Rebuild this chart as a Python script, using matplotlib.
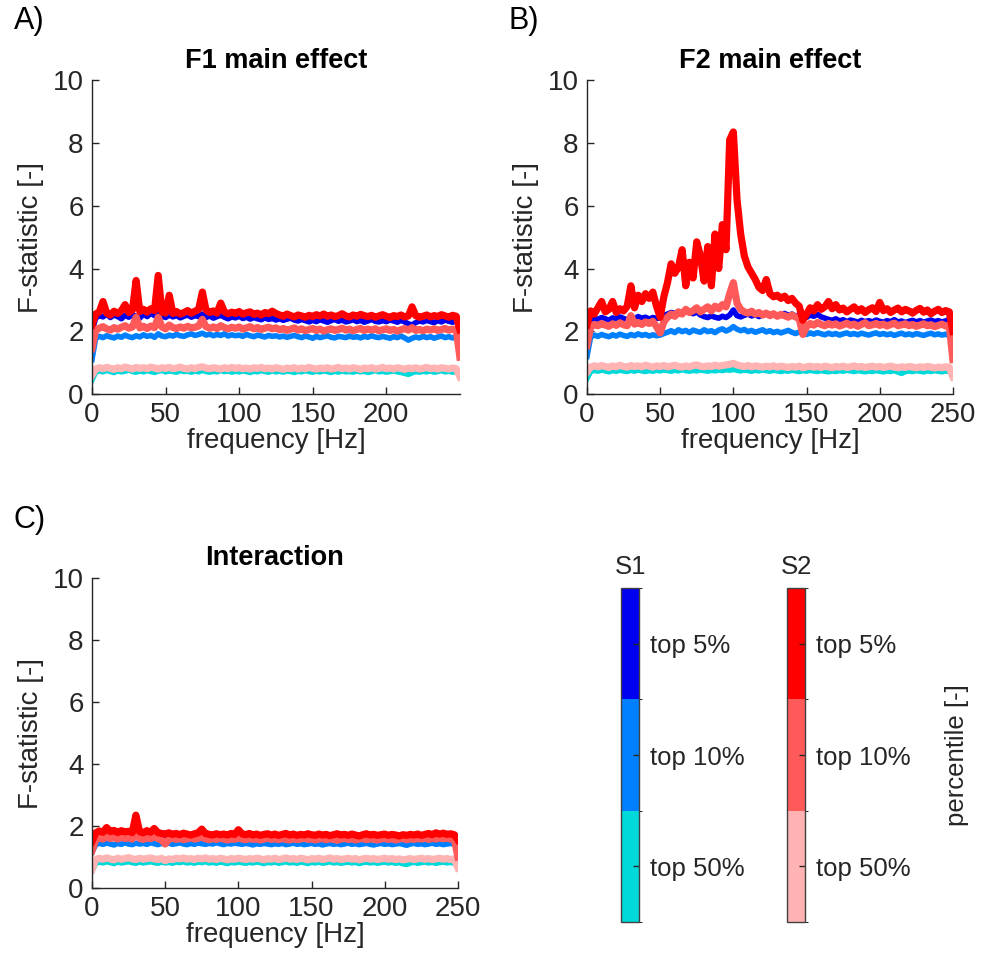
import numpy as np
import matplotlib
matplotlib.use("Agg")
import matplotlib.pyplot as plt
from matplotlib.colors import ListedColormap, BoundaryNorm
from matplotlib.cm import ScalarMappable

plt.rcParams['font.family'] = ['Liberation Sans', 'DejaVu Sans']

# frequency axis, 2.5 Hz bins
freq = np.arange(0, 250.1, 2.5)

# ---------------- F1 main effect ----------------
f1_s1_top5 = [
    2.00, 2.42, 2.50, 2.46, 2.55, 2.44, 2.52, 2.47, 2.40, 2.51,
    2.45, 2.53, 2.48, 2.42, 2.55, 2.47, 2.58, 2.50, 2.62, 2.49,
    2.44, 2.52, 2.46, 2.50, 2.43, 2.48, 2.52, 2.45, 2.50, 2.47,
    2.55, 2.44, 2.49, 2.42, 2.47, 2.51, 2.45, 2.40, 2.46, 2.43,
    2.48, 2.41, 2.45, 2.39, 2.44, 2.40, 2.37, 2.43, 2.38, 2.41,
    2.36, 2.40, 2.35, 2.39, 2.42, 2.36, 2.33, 2.38, 2.34, 2.30,
    2.35, 2.31, 2.37, 2.33, 2.29, 2.34, 2.38, 2.32, 2.36, 2.30,
    2.33, 2.37, 2.31, 2.35, 2.29, 2.33, 2.38, 2.32, 2.30, 2.34,
    2.31, 2.36, 2.33, 2.29, 2.35, 2.30, 2.24, 2.20, 2.28, 2.33,
    2.30, 2.35, 2.31, 2.28, 2.34, 2.30, 2.36, 2.32, 2.29, 2.33,
    2.25]
f1_s1_top10 = [
    1.10, 1.78, 1.84, 1.80, 1.86, 1.82, 1.79, 1.85, 1.81, 1.88,
    1.83, 1.80, 1.86, 1.82, 1.89, 1.84, 1.87, 1.81, 1.92, 1.85,
    1.83, 1.88, 1.85, 1.90, 1.86, 1.84, 1.89, 1.92, 1.87, 1.90,
    1.94, 1.88, 1.91, 1.86, 1.90, 1.87, 1.92, 1.85, 1.89, 1.86,
    1.88, 1.84, 1.90, 1.86, 1.83, 1.88, 1.85, 1.82, 1.87, 1.84,
    1.86, 1.82, 1.85, 1.81, 1.84, 1.87, 1.83, 1.80, 1.85, 1.82,
    1.78, 1.84, 1.80, 1.83, 1.86, 1.81, 1.79, 1.84, 1.82, 1.80,
    1.85, 1.81, 1.83, 1.79, 1.84, 1.81, 1.86, 1.82, 1.80, 1.84,
    1.81, 1.78, 1.83, 1.80, 1.85, 1.79, 1.72, 1.78, 1.82, 1.79,
    1.84, 1.80, 1.83, 1.78, 1.82, 1.85, 1.80, 1.83, 1.79, 1.82,
    1.78]
f1_s1_top50 = [
    0.45, 0.70, 0.74, 0.71, 0.76, 0.72, 0.69, 0.74, 0.71, 0.73,
    0.77, 0.72, 0.70, 0.74, 0.71, 0.75, 0.72, 0.69, 0.73, 0.76,
    0.71, 0.74, 0.72, 0.70, 0.75, 0.72, 0.73, 0.70, 0.74, 0.71,
    0.76, 0.72, 0.70, 0.73, 0.71, 0.75, 0.72, 0.74, 0.70, 0.73,
    0.71, 0.74, 0.72, 0.69, 0.73, 0.71, 0.75, 0.72, 0.70, 0.74,
    0.71, 0.73, 0.70, 0.74, 0.72, 0.69, 0.73, 0.71, 0.75, 0.72,
    0.70, 0.73, 0.71, 0.74, 0.72, 0.69, 0.73, 0.70, 0.74, 0.71,
    0.72, 0.70, 0.74, 0.71, 0.73, 0.69, 0.72, 0.75, 0.71, 0.73,
    0.70, 0.72, 0.74, 0.71, 0.69, 0.66, 0.63, 0.68, 0.72, 0.70,
    0.73, 0.71, 0.74, 0.70, 0.72, 0.75, 0.71, 0.73, 0.70, 0.72,
    0.68]
f1_s2_top5 = [
    2.20, 2.55, 2.62, 2.95, 2.58, 2.52, 2.64, 2.57, 2.66, 2.85,
    2.60, 2.68, 3.62, 2.63, 2.70, 2.61, 2.72, 2.66, 3.78, 2.62,
    2.58, 3.15, 2.57, 2.63, 2.55, 2.60, 2.66, 2.58, 2.64, 2.70,
    3.25, 2.68, 2.60, 2.65, 2.58, 2.90, 2.62, 2.56, 2.61, 2.57,
    2.63, 2.55, 2.59, 2.62, 2.54, 2.58, 2.52, 2.60, 2.56, 2.64,
    2.57, 2.52, 2.48, 2.55, 2.50, 2.46, 2.52, 2.49, 2.45, 2.51,
    2.47, 2.53, 2.49, 2.55, 2.48, 2.52, 2.47, 2.50, 2.56, 2.49,
    2.46, 2.52, 2.48, 2.54, 2.50, 2.47, 2.51, 2.45, 2.49, 2.53,
    2.48, 2.44, 2.50, 2.47, 2.52, 2.46, 2.49, 2.78, 2.50, 2.45,
    2.48, 2.52, 2.46, 2.50, 2.47, 2.53, 2.49, 2.45, 2.51, 2.48,
    2.05]
f1_s2_top10 = [
    1.45, 2.05, 2.10, 2.15, 2.08, 2.04, 2.12, 2.07, 2.13, 2.18,
    2.10, 2.14, 2.45, 2.11, 2.16, 2.09, 2.17, 2.12, 2.45, 2.14,
    2.08, 2.20, 2.12, 2.09, 2.14, 2.10, 2.16, 2.11, 2.13, 2.17,
    2.38, 2.15, 2.10, 2.14, 2.09, 2.18, 2.12, 2.08, 2.13, 2.10,
    2.14, 2.07, 2.11, 2.15, 2.08, 2.12, 2.06, 2.10, 2.13, 2.08,
    2.11, 2.05, 2.09, 2.03, 2.07, 2.11, 2.04, 2.08, 2.02, 2.06,
    2.09, 2.03, 2.07, 2.01, 2.05, 2.08, 2.03, 2.06, 2.10, 2.04,
    2.07, 2.02, 2.06, 2.09, 2.03, 2.07, 2.04, 2.08, 2.02, 2.05,
    2.08, 2.03, 2.06, 2.01, 2.05, 2.09, 2.04, 2.12, 2.03, 2.06,
    2.02, 2.07, 2.04, 2.08, 2.03, 2.06, 2.09, 2.04, 2.07, 2.05,
    1.18]
f1_s2_top50 = [
    0.60, 0.80, 0.84, 0.81, 0.85, 0.82, 0.79, 0.84, 0.81, 0.86,
    0.83, 0.80, 0.85, 0.82, 0.84, 0.81, 0.86, 0.83, 0.80, 0.84,
    0.82, 0.85, 0.81, 0.83, 0.86, 0.82, 0.80, 0.84, 0.81, 0.85,
    0.87, 0.83, 0.81, 0.84, 0.82, 0.80, 0.84, 0.81, 0.85, 0.82,
    0.84, 0.81, 0.83, 0.80, 0.84, 0.82, 0.85, 0.81, 0.83, 0.80,
    0.84, 0.82, 0.79, 0.83, 0.81, 0.84, 0.80, 0.83, 0.81, 0.85,
    0.82, 0.80, 0.83, 0.81, 0.84, 0.80, 0.82, 0.85, 0.81, 0.83,
    0.80, 0.84, 0.82, 0.79, 0.83, 0.81, 0.84, 0.80, 0.82, 0.85,
    0.81, 0.83, 0.80, 0.84, 0.82, 0.79, 0.83, 0.81, 0.84, 0.80,
    0.82, 0.85, 0.81, 0.83, 0.80, 0.84, 0.82, 0.80, 0.83, 0.81,
    0.55]

# ---------------- F2 main effect ----------------
f2_s1_top5 = [
    2.00, 2.36, 2.42, 2.38, 2.44, 2.40, 2.35, 2.43, 2.39, 2.46,
    2.41, 2.37, 2.44, 2.40, 2.47, 2.42, 2.45, 2.39, 2.44, 2.41,
    2.43, 2.50, 2.55, 2.60, 2.57, 2.63, 2.58, 2.70, 2.61, 2.56,
    2.62, 2.52, 2.47, 2.44, 2.49, 2.45, 2.42, 2.48, 2.44, 2.52,
    2.68, 2.50, 2.46, 2.51, 2.55, 2.49, 2.53, 2.47, 2.52, 2.56,
    2.50, 2.54, 2.48, 2.53, 2.57, 2.51, 2.55, 2.49, 2.52, 2.47,
    2.44, 2.52, 2.48, 2.54, 2.46, 2.42, 2.38, 2.35, 2.40, 2.33,
    2.37, 2.31, 2.36, 2.33, 2.29, 2.35, 2.31, 2.34, 2.30, 2.36,
    2.32, 2.29, 2.34, 2.31, 2.37, 2.30, 2.33, 2.28, 2.32, 2.35,
    2.30, 2.34, 2.29, 2.33, 2.36, 2.31, 2.34, 2.30, 2.33, 2.38,
    2.45]
f2_s1_top10 = [
    1.20, 1.82, 1.88, 1.84, 1.90, 1.86, 1.83, 1.89, 1.85, 1.91,
    1.87, 1.84, 1.90, 1.86, 1.92, 1.87, 1.90, 1.85, 1.89, 1.86,
    1.88, 1.93, 1.97, 2.02, 1.96, 2.05, 1.99, 2.03, 1.96, 2.04,
    2.00, 1.97, 2.05, 1.99, 2.02, 1.96, 2.04, 2.08, 2.01, 2.06,
    2.15, 2.07, 2.02, 2.06, 1.99, 2.03, 1.97, 2.01, 2.05, 1.98,
    2.02, 1.96, 2.00, 1.95, 1.99, 2.03, 1.97, 1.93, 1.98, 1.94,
    1.90, 1.95, 1.91, 1.96, 1.92, 1.89, 1.94, 1.90, 1.93, 1.88,
    1.92, 1.95, 1.90, 1.93, 1.89, 1.94, 1.91, 1.88, 1.92, 1.95,
    1.90, 1.93, 1.89, 1.92, 1.87, 1.91, 1.94, 1.89, 1.92, 1.88,
    1.93, 1.90, 1.87, 1.91, 1.94, 1.89, 1.92, 1.88, 1.91, 1.86,
    1.85]
f2_s1_top50 = [
    0.50, 0.72, 0.76, 0.73, 0.77, 0.74, 0.71, 0.75, 0.73, 0.76,
    0.74, 0.72, 0.76, 0.73, 0.77, 0.74, 0.72, 0.75, 0.73, 0.76,
    0.74, 0.77, 0.75, 0.73, 0.76, 0.74, 0.78, 0.75, 0.73, 0.76,
    0.74, 0.77, 0.75, 0.73, 0.76, 0.74, 0.77, 0.75, 0.78, 0.76,
    0.79, 0.76, 0.74, 0.77, 0.75, 0.73, 0.76, 0.74, 0.77, 0.75,
    0.73, 0.76, 0.74, 0.72, 0.75, 0.73, 0.76, 0.74, 0.72, 0.75,
    0.73, 0.76, 0.74, 0.72, 0.75, 0.73, 0.71, 0.74, 0.72, 0.75,
    0.73, 0.76, 0.74, 0.72, 0.75, 0.73, 0.71, 0.74, 0.72, 0.75,
    0.73, 0.71, 0.74, 0.72, 0.75, 0.70, 0.66, 0.72, 0.74, 0.72,
    0.75, 0.73, 0.71, 0.74, 0.72, 0.75, 0.73, 0.71, 0.74, 0.72,
    0.78]
f2_s2_top5 = [
    2.20, 2.65, 2.55, 2.75, 2.95, 2.62, 2.70, 2.95, 2.60, 2.72,
    2.65, 2.80, 3.45, 2.75, 3.15, 2.95, 3.20, 3.05, 3.25, 2.80,
    2.45, 3.10, 3.55, 4.15, 3.85, 4.05, 4.60, 3.45, 4.20, 3.70,
    4.85, 4.40, 3.60, 4.70, 3.45, 5.10, 4.00, 5.40, 4.60, 8.10,
    8.35, 6.20, 5.10, 4.40, 4.05, 3.85, 3.65, 3.40, 3.30, 3.65,
    3.20, 3.10, 3.15, 3.05, 3.12, 2.98, 3.05, 2.90, 2.80, 2.35,
    2.55, 2.75, 2.65, 2.85, 2.70, 2.78, 2.95, 2.72, 2.85, 2.68,
    2.74, 2.62, 2.70, 2.78, 2.64, 2.72, 2.60, 2.69, 2.75, 2.63,
    2.92, 2.66, 2.72, 2.60, 2.68, 2.74, 2.62, 2.70, 2.65, 2.58,
    2.67, 2.73, 2.61, 2.68, 2.56, 2.64, 2.70, 2.60, 2.66, 2.62,
    2.00]
f2_s2_top10 = [
    1.55, 2.15, 2.22, 2.18, 2.25, 2.20, 2.16, 2.24, 2.19, 2.27,
    2.21, 2.18, 2.50, 2.23, 2.28, 2.22, 2.30, 2.25, 2.32, 2.15,
    1.95, 2.30, 2.45, 2.55, 2.48, 2.62, 2.55, 2.70, 2.60, 2.66,
    2.75, 2.62, 2.70, 2.78, 2.65, 2.80, 2.72, 2.85, 2.78, 3.20,
    3.55, 2.90, 2.70, 2.62, 2.58, 2.64, 2.55, 2.60, 2.52, 2.58,
    2.50, 2.56, 2.48, 2.54, 2.50, 2.45, 2.52, 2.46, 2.40, 1.90,
    2.15, 2.25, 2.20, 2.28, 2.22, 2.18, 2.25, 2.20, 2.24, 2.17,
    2.21, 2.26, 2.19, 2.23, 2.16, 2.22, 2.27, 2.18, 2.21, 2.25,
    2.19, 2.23, 2.17, 2.22, 2.26, 2.18, 2.21, 2.24, 2.18, 2.22,
    2.16, 2.20, 2.24, 2.18, 2.21, 2.15, 2.19, 2.23, 2.17, 2.20,
    1.10]
f2_s2_top50 = [
    0.70, 0.86, 0.90, 0.87, 0.91, 0.88, 0.85, 0.90, 0.87, 0.92,
    0.88, 0.86, 0.91, 0.88, 0.90, 0.87, 0.92, 0.89, 0.86, 0.90,
    0.88, 0.91, 0.87, 0.89, 0.92, 0.88, 0.86, 0.90, 0.87, 0.91,
    0.93, 0.89, 0.87, 0.90, 0.88, 0.92, 0.89, 0.91, 0.93, 0.95,
    0.98, 0.93, 0.90, 0.88, 0.91, 0.87, 0.90, 0.88, 0.86, 0.89,
    0.87, 0.90, 0.86, 0.89, 0.87, 0.85, 0.88, 0.86, 0.89, 0.84,
    0.87, 0.89, 0.86, 0.88, 0.85, 0.89, 0.87, 0.84, 0.88, 0.86,
    0.89, 0.85, 0.87, 0.90, 0.86, 0.88, 0.85, 0.87, 0.89, 0.86,
    0.88, 0.85, 0.87, 0.89, 0.86, 0.84, 0.87, 0.85, 0.88, 0.86,
    0.84, 0.87, 0.85, 0.88, 0.86, 0.83, 0.86, 0.84, 0.87, 0.85,
    0.55]

# ---------------- Interaction ----------------
int_s1_top5 = [
    1.40, 1.66, 1.70, 1.67, 1.72, 1.68, 1.65, 1.71, 1.67, 1.73,
    1.69, 1.66, 1.74, 1.68, 1.71, 1.67, 1.70, 1.66, 1.72, 1.68,
    1.65, 1.69, 1.66, 1.70, 1.67, 1.64, 1.69, 1.66, 1.71, 1.67,
    1.72, 1.68, 1.65, 1.69, 1.66, 1.70, 1.67, 1.64, 1.68, 1.71,
    1.69, 1.66, 1.70, 1.67, 1.65, 1.69, 1.66, 1.70, 1.67, 1.64,
    1.68, 1.65, 1.69, 1.66, 1.70, 1.67, 1.64, 1.68, 1.65, 1.69,
    1.66, 1.63, 1.67, 1.70, 1.66, 1.68, 1.65, 1.69, 1.66, 1.64,
    1.67, 1.70, 1.66, 1.68, 1.65, 1.69, 1.66, 1.63, 1.67, 1.65,
    1.68, 1.66, 1.69, 1.65, 1.67, 1.64, 1.68, 1.66, 1.69, 1.65,
    1.67, 1.64, 1.68, 1.66, 1.69, 1.65, 1.67, 1.70, 1.66, 1.68,
    1.60]
int_s1_top10 = [
    1.15, 1.40, 1.44, 1.41, 1.45, 1.42, 1.39, 1.44, 1.41, 1.46,
    1.42, 1.40, 1.45, 1.42, 1.44, 1.41, 1.46, 1.43, 1.40, 1.44,
    1.42, 1.45, 1.41, 1.43, 1.46, 1.42, 1.40, 1.44, 1.41, 1.45,
    1.43, 1.41, 1.44, 1.42, 1.46, 1.43, 1.40, 1.44, 1.42, 1.45,
    1.43, 1.41, 1.44, 1.42, 1.39, 1.43, 1.41, 1.44, 1.42, 1.40,
    1.43, 1.41, 1.44, 1.40, 1.42, 1.45, 1.41, 1.43, 1.40, 1.42,
    1.44, 1.41, 1.43, 1.39, 1.42, 1.44, 1.41, 1.43, 1.40, 1.42,
    1.45, 1.41, 1.43, 1.40, 1.42, 1.44, 1.41, 1.39, 1.42, 1.44,
    1.41, 1.43, 1.40, 1.42, 1.44, 1.41, 1.38, 1.42, 1.44, 1.41,
    1.43, 1.40, 1.42, 1.45, 1.41, 1.43, 1.40, 1.42, 1.44, 1.41,
    1.40]
int_s1_top50 = [
    0.55, 0.80, 0.84, 0.81, 0.85, 0.82, 0.79, 0.84, 0.81, 0.83,
    0.85, 0.82, 0.80, 0.84, 0.81, 0.83, 0.85, 0.82, 0.80, 0.84,
    0.81, 0.83, 0.80, 0.84, 0.82, 0.85, 0.81, 0.83, 0.80, 0.84,
    0.82, 0.85, 0.81, 0.83, 0.80, 0.84, 0.82, 0.79, 0.83, 0.81,
    0.84, 0.82, 0.80, 0.83, 0.81, 0.84, 0.82, 0.79, 0.83, 0.81,
    0.84, 0.80, 0.82, 0.85, 0.81, 0.83, 0.80, 0.84, 0.82, 0.79,
    0.83, 0.81, 0.84, 0.80, 0.82, 0.85, 0.81, 0.83, 0.80, 0.82,
    0.84, 0.81, 0.83, 0.79, 0.82, 0.84, 0.81, 0.83, 0.80, 0.82,
    0.84, 0.81, 0.83, 0.80, 0.82, 0.78, 0.76, 0.81, 0.83, 0.80,
    0.82, 0.84, 0.81, 0.83, 0.80, 0.82, 0.84, 0.81, 0.83, 0.80,
    0.75]
int_s2_top5 = [
    1.50, 1.78, 1.84, 1.80, 1.95, 1.82, 1.86, 1.79, 1.85, 1.81,
    1.83, 1.79, 2.35, 1.82, 1.78, 1.85, 1.80, 1.92, 1.79, 1.76,
    1.74, 1.78, 1.73, 1.76, 1.72, 1.77, 1.74, 1.71, 1.75, 1.78,
    1.90, 1.76, 1.73, 1.71, 1.75, 1.72, 1.74, 1.71, 1.76, 1.73,
    1.88, 1.75, 1.72, 1.76, 1.71, 1.74, 1.70, 1.73, 1.75, 1.71,
    1.74, 1.70, 1.73, 1.76, 1.71, 1.74, 1.70, 1.73, 1.71, 1.75,
    1.72, 1.70, 1.74, 1.71, 1.73, 1.69, 1.72, 1.75, 1.71, 1.73,
    1.70, 1.74, 1.71, 1.68, 1.72, 1.75, 1.71, 1.73, 1.70, 1.72,
    1.74, 1.70, 1.73, 1.71, 1.68, 1.72, 1.70, 1.73, 1.71, 1.74,
    1.70, 1.73, 1.76, 1.72, 1.78, 1.74, 1.77, 1.73, 1.75, 1.72,
    1.55]
int_s2_top10 = [
    1.20, 1.56, 1.62, 1.58, 1.65, 1.60, 1.63, 1.58, 1.64, 1.60,
    1.62, 1.58, 1.92, 1.60, 1.57, 1.62, 1.59, 1.66, 1.60, 1.55,
    1.42, 1.58, 1.61, 1.57, 1.60, 1.56, 1.59, 1.62, 1.58, 1.60,
    1.66, 1.59, 1.56, 1.60, 1.57, 1.61, 1.58, 1.55, 1.59, 1.57,
    1.62, 1.58, 1.56, 1.60, 1.57, 1.59, 1.55, 1.58, 1.61, 1.57,
    1.59, 1.56, 1.60, 1.57, 1.55, 1.59, 1.56, 1.58, 1.61, 1.57,
    1.59, 1.55, 1.58, 1.60, 1.56, 1.59, 1.57, 1.54, 1.58, 1.60,
    1.57, 1.59, 1.55, 1.58, 1.60, 1.56, 1.59, 1.57, 1.55, 1.58,
    1.60, 1.57, 1.59, 1.55, 1.58, 1.60, 1.56, 1.59, 1.57, 1.60,
    1.58, 1.61, 1.57, 1.60, 1.58, 1.62, 1.59, 1.61, 1.58, 1.60,
    1.00]
int_s2_top50 = [
    0.60, 0.92, 0.96, 0.93, 0.97, 0.94, 0.91, 0.96, 0.93, 0.95,
    0.98, 0.94, 0.92, 0.96, 0.93, 0.95, 0.97, 0.94, 0.92, 0.96,
    0.88, 0.94, 0.92, 0.96, 0.94, 0.97, 0.93, 0.95, 0.92, 0.96,
    0.94, 0.97, 0.93, 0.95, 0.92, 0.96, 0.94, 0.91, 0.95, 0.93,
    0.96, 0.94, 0.92, 0.95, 0.93, 0.96, 0.94, 0.91, 0.95, 0.93,
    0.96, 0.92, 0.94, 0.97, 0.93, 0.95, 0.92, 0.96, 0.94, 0.91,
    0.95, 0.93, 0.96, 0.92, 0.94, 0.97, 0.93, 0.95, 0.92, 0.94,
    0.96, 0.93, 0.95, 0.91, 0.94, 0.96, 0.93, 0.95, 0.92, 0.94,
    0.96, 0.93, 0.95, 0.92, 0.94, 0.91, 0.93, 0.95, 0.92, 0.94,
    0.96, 0.93, 0.95, 0.92, 0.94, 0.96, 0.93, 0.95, 0.92, 0.94,
    0.65]

s1_colors = ['#0000F0', '#0080FF', '#00D9D9']   # top 5, 10, 50 %
s2_colors = ['#FF0000', '#FF5A5A', '#FFB3B3']
pct_labels = ['top 5%', 'top 10%', 'top 50%']
dark = '#262626'

fig = plt.figure(figsize=(9.89, 9.66), dpi=100)


def stat_panel(rect, title, s1, s2, xticks):
    ax = fig.add_axes(rect)
    # S1 first, then S2 on top; weakest percentile drawn first
    for y, c in zip(s1[::-1], s1_colors[::-1]):
        ax.plot(freq, y, color=c, lw=4.0, solid_joinstyle='round')
    for y, c in zip(s2[::-1], s2_colors[::-1]):
        ax.plot(freq, y, color=c, lw=5.2, solid_joinstyle='round')
    ax.set_xlim(0, 250)
    ax.set_ylim(0, 10)
    ax.set_xticks(xticks)
    ax.set_yticks([0, 2, 4, 6, 8, 10])
    ax.set_xlabel('frequency [Hz]', fontsize=20, color=dark, labelpad=0)
    ax.set_ylabel('F-statistic [-]', fontsize=20, color=dark, labelpad=6)
    ax.set_title(title, fontsize=19.5, fontweight='bold', pad=9)
    for side in ('top', 'right'):
        ax.spines[side].set_visible(False)
    for side in ('left', 'bottom'):
        ax.spines[side].set_color(dark)
        ax.spines[side].set_linewidth(1.0)
    ax.tick_params(direction='in', length=5, width=1, colors=dark,
                   labelsize=20, pad=6)
    return ax


stat_panel([0.093, 0.592, 0.372, 0.325], 'F1 main effect',
           [f1_s1_top5, f1_s1_top10, f1_s1_top50],
           [f1_s2_top5, f1_s2_top10, f1_s2_top50], [0, 50, 100, 150, 200])
stat_panel([0.5935, 0.592, 0.370, 0.325], 'F2 main effect',
           [f2_s1_top5, f2_s1_top10, f2_s1_top50],
           [f2_s2_top5, f2_s2_top10, f2_s2_top50], [0, 50, 100, 150, 200, 250])
stat_panel([0.093, 0.0807, 0.370, 0.321], 'Interaction',
           [int_s1_top5, int_s1_top10, int_s1_top50],
           [int_s2_top5, int_s2_top10, int_s2_top50], [0, 50, 100, 150, 200, 250])

# panel letters
fig.text(0.014, 0.978, 'A)', fontsize=22, va='center', ha='left')
fig.text(0.514, 0.978, 'B)', fontsize=22, va='center', ha='left')
fig.text(0.014, 0.462, 'C)', fontsize=22, va='center', ha='left')

# discrete percentile colour bars
bounds = [0, 1, 2, 3]
norm = BoundaryNorm(bounds, 3)
for x0, cols, name in [(0.628, s1_colors, 'S1'), (0.7958, s2_colors, 'S2')]:
    cax = fig.add_axes([x0, 0.0455, 0.0182, 0.3458])
    cmap = ListedColormap(cols[::-1])
    cb = fig.colorbar(ScalarMappable(norm=norm, cmap=cmap), cax=cax,
                      ticks=[0.5, 1.5, 2.5])
    cb.set_ticklabels(pct_labels[::-1])
    cb.outline.set_edgecolor('#404040')
    cb.outline.set_linewidth(1.0)
    cax.tick_params(direction='in', length=4, width=1, colors=dark,
                    labelsize=18.5, pad=8)
    cax.set_title(name, fontsize=18.5, color=dark, pad=10)

fig.text(0.968, 0.2184, 'percentile [-]', fontsize=18.5, color=dark,
         rotation=90, va='center', ha='center')

fig.savefig('out.png', dpi=100)
